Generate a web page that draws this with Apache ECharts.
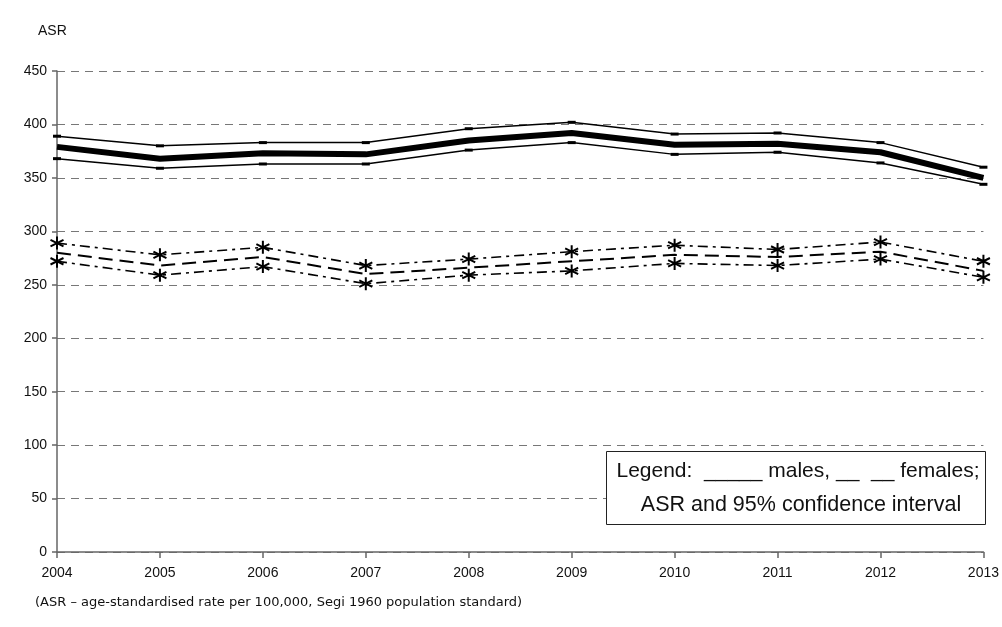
<!DOCTYPE html>
<html>
<head>
<meta charset="utf-8">
<script src="https://cdn.jsdelivr.net/npm/echarts@6/dist/echarts.min.js"></script>
<style>html,body{margin:0;padding:0;background:#fff}#c{width:1002px;height:627px}</style>
</head>
<body>
<div id="c"></div>
<script>
var years = ['2004','2005','2006','2007','2008','2009','2010','2011','2012','2013'];
var maleASR   = [379, 368, 373, 372, 385, 392, 381, 382, 374, 350];
var maleUpper = [389, 380, 383, 383, 396, 402, 391, 392, 383, 360];
var maleLower = [368, 359, 363, 363, 376, 383, 372, 374, 364, 344];
var femaleASR   = [280, 268, 276, 260, 266, 272, 278, 276, 281, 263];
var femaleUpper = [289, 278, 285, 268, 274, 281, 287, 283, 290, 272];
var femaleLower = [272, 259, 267, 251, 259, 263, 270, 268, 274, 257];
var yTicks = [0, 50, 100, 150, 200, 250, 300, 350, 400, 450];

var star = 'path://M6,0L6,12M0.8,3L11.2,9M0.8,9L11.2,3';
var font = '"Liberation Sans", Arial, sans-serif';

var chart = echarts.init(document.getElementById('c'), null, {renderer: 'canvas'});
chart.setOption({
  animation: false,
  backgroundColor: '#fff',
  grid: {left: 57, right: 16, top: 71, bottom: 75, containLabel: false},
  xAxis: {
    type: 'category', data: years, boundaryGap: false,
    axisLine: {lineStyle: {color: '#666', width: 1.5}},
    axisTick: {show: true, alignWithLabel: true, length: 6, lineStyle: {color: '#666', width: 1.5}},
    axisLabel: {color: '#111', fontFamily: font, fontSize: 14, margin: 14},
    splitLine: {show: false}
  },
  yAxis: {
    type: 'value', min: yTicks[0], max: yTicks[yTicks.length - 1], interval: 50,
    axisLine: {show: true, lineStyle: {color: '#666', width: 1.5}},
    axisTick: {show: true, length: 5, lineStyle: {color: '#666', width: 1.5}},
    axisLabel: {color: '#111', fontFamily: font, fontSize: 14, margin: 10},
    splitLine: {show: true, lineStyle: {color: '#777', type: [8, 6], width: 1}}
  },
  series: [
    {name: 'maleUpper', type: 'line', data: maleUpper, symbol: 'rect', symbolSize: [8, 3],
     itemStyle: {color: '#000'}, lineStyle: {color: '#000', width: 1.5}},
    {name: 'maleLower', type: 'line', data: maleLower, symbol: 'rect', symbolSize: [8, 3],
     itemStyle: {color: '#000'}, lineStyle: {color: '#000', width: 1.5}},
    {name: 'maleASR', type: 'line', data: maleASR, symbol: 'none',
     lineStyle: {color: '#000', width: 6}},
    {name: 'femaleUpper', type: 'line', data: femaleUpper, symbol: star, symbolSize: 13,
     itemStyle: {color: '#000', borderColor: '#000', borderWidth: 2},
     lineStyle: {color: '#000', width: 1.6, type: [10, 5, 3, 5]}},
    {name: 'femaleLower', type: 'line', data: femaleLower, symbol: star, symbolSize: 13,
     itemStyle: {color: '#000', borderColor: '#000', borderWidth: 2},
     lineStyle: {color: '#000', width: 1.6, type: [10, 5, 3, 5]}},
    {name: 'femaleASR', type: 'line', data: femaleASR, symbol: 'none',
     lineStyle: {color: '#000', width: 2, type: [14, 7]}}
  ],
  graphic: [
    {type: 'text', left: 38, top: 24, style: {text: 'ASR', fontFamily: font, fontSize: 14, fill: '#111'}},
    {type: 'text', left: 35, top: 596, style: {text: '(ASR – age-standardised rate per 100,000, Segi 1960 population standard)', fontFamily: '"DejaVu Sans", sans-serif', fontSize: 13, fill: '#111'}},
    {type: 'rect', shape: {x: 606.5, y: 451.5, width: 379, height: 73}, style: {fill: '#fff', stroke: '#222', lineWidth: 1}, z: 100},
    {type: 'text', x: 798, y: 471, style: {text: 'Legend:  _____ males, __  __ females;', fontFamily: font, fontSize: 21, fill: '#111', textAlign: 'center', textVerticalAlign: 'middle'}, z: 101},
    {type: 'text', x: 801, y: 505, style: {text: 'ASR and 95% confidence interval', fontFamily: font, fontSize: 21.5, fill: '#111', textAlign: 'center', textVerticalAlign: 'middle'}, z: 101}
  ]
});
</script>
</body>
</html>
